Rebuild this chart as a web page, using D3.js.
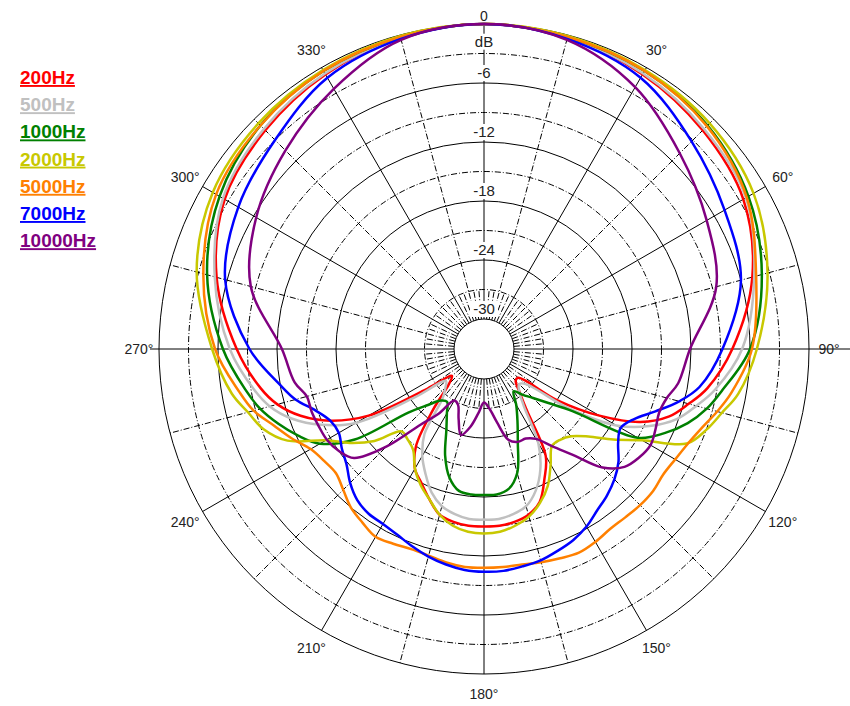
<!DOCTYPE html>
<html>
<head>
<meta charset="utf-8">
<script src="https://cdn.jsdelivr.net/npm/d3@7"></script>
<style>
  body { margin: 0; background: #fff; }
  text { font-family: "Liberation Sans", Arial, sans-serif; }
</style>
</head>
<body>
<svg id="chart" width="850" height="706"></svg>
<script>
// angles in degrees, clockwise from the front (top)
const angles = [0, 15, 30, 45, 60, 75, 90, 100, 105, 110, 115, 120, 125, 130, 135, 140, 145, 150, 155, 160, 165, 170, 175, 180,
    185, 190, 195, 200, 205, 210, 215, 220, 225, 230, 235, 240, 245, 250, 255, 260, 270, 285, 300, 315, 330, 345];

const freqLabels = ["200Hz", "500Hz", "1000Hz", "2000Hz", "5000Hz", "7000Hz", "10000Hz"];
const freqColors = ["#ff0000", "#c0c0c0", "#008000", "#c8c800", "#ff8000", "#0000ff", "#800080"];

// levels in dB, one per angle
const hz200 = [0, -0.3, -0.8, -1.6, -2.6, -4.8, -7.8, -10, -11.5, -13, -15.5, -19.5, -24, -28.5, -28.5, -27.5, -25.5, -20.5, -18.5, -16.5, -15.6, -15.2, -15, -15,
    -15, -15.2, -15.6, -16.8, -18, -19, -21, -25, -28, -28.8, -26, -19.5, -15.8, -13.2, -11.3, -10, -7.9, -4.9, -2.6, -1.6, -0.8, -0.3];
const hz500 = [0, -0.3, -0.7, -1.4, -2.3, -4.6, -6.8, -9.2, -10.7, -12.2, -14.5, -17.5, -22.5, -27.5, -28, -27.5, -26, -22, -19.5, -17.7, -16.5, -16, -15.7, -15.7,
    -15.7, -16, -16.5, -17.5, -19, -20.5, -22.5, -26.5, -27.5, -28, -24.5, -18, -14.8, -12.3, -10.5, -9.3, -7.2, -4.7, -2.4, -1.4, -0.7, -0.3];
const hz1000 = [0, -0.2, -0.4, -0.9, -2, -3.8, -6, -8.5, -9.6, -11, -12.8, -15, -22, -24.5, -26, -27, -27.8, -26.5, -25, -23, -20, -18.6, -18.2, -18.2,
    -18.2, -18.4, -19.5, -21.5, -24, -25.5, -26.5, -26.2, -25, -23, -17, -13.8, -12.2, -10.8, -9.5, -8.5, -6.5, -3.9, -2, -0.9, -0.4, -0.2];
const hz2000 = [0, -0.1, -0.3, -0.6, -1.4, -3.2, -5.3, -6.8, -8, -9, -10.3, -14.5, -17, -19.2, -20.5, -21, -21, -19.5, -17.7, -16.4, -15.4, -14.8, -14.4, -14.3,
    -14.4, -14.8, -15.6, -16.8, -17.8, -19, -20.5, -21, -21.2, -18.5, -16.4, -14.5, -11, -9.2, -8.2, -7, -5.4, -2.8, -1.2, -0.6, -0.3, -0.1];
const hz5000 = [0, -0.2, -0.4, -1, -2.2, -4.4, -5.8, -7.5, -8.5, -9.5, -10.2, -10.6, -10.8, -10.6, -10.6, -10.7, -10.7, -10.4, -10.2, -10.4, -10.6, -10.8, -10.8, -10.8,
    -10.8, -11, -11.3, -11.4, -11.2, -11, -11.5, -12, -12.8, -13.4, -13.2, -12.7, -11.5, -10.3, -8.8, -7.8, -5.7, -3.5, -1.6, -0.9, -0.4, -0.2];
const hz7000 = [0, -0.4, -1.2, -3.2, -4.8, -6, -8.8, -10.8, -12.5, -14.5, -16.2, -17, -16.4, -15.2, -14.3, -13.6, -13, -12.2, -11.6, -11.2, -10.8, -10.6, -10.4, -10.4,
    -10.5, -10.8, -11.2, -11.7, -12.2, -12.5, -12.6, -13, -13.8, -14.8, -15.4, -16, -15.8, -14.8, -13.2, -12, -9.2, -5.8, -4.2, -3, -1.2, -0.4];
const hz10000 = [0, -0.5, -2.3, -4.9, -6.9, -8.6, -12.1, -13, -13.8, -14.1, -13.8, -13.5, -13.8, -14.4, -16, -19, -21, -22.5, -23, -23, -23.5, -25.5, -27, -27.6,
    -26.5, -25, -24, -25.5, -26.8, -27, -25, -23, -19, -15.8, -15, -14.6, -14.5, -14.4, -14.4, -13.5, -12.5, -8.5, -6.3, -4.5, -2.5, -0.5];

const series = [hz200, hz500, hz1000, hz2000, hz5000, hz7000, hz10000];

const dbTicks = [-6, -12, -18, -24, -30];
const angleTicks = [0, 30, 60, 90, 120, 150, 180, 210, 240, 270, 300, 330];

const svg = d3.select("#chart");
const cx = 484, cy = 349;
const r = d3.scaleLinear().domain([-30, 0]).range([30, 325]).clamp(true);
const rad = d => d * Math.PI / 180;
const px = (a, rr) => cx + rr * Math.sin(rad(a));
const py = (a, rr) => cy - rr * Math.cos(rad(a));

let grid = svg.append("g").attr("stroke", "#000").attr("fill", "none").attr("stroke-width", 1);

// rings
for (let db = -27; db <= 0; db += 3) {
    grid.append("circle")
        .attr("cx", cx).attr("cy", cy).attr("r", r(db))
        .attr("stroke-dasharray", db % 6 === 0 ? null : "6,2,1,2");
}

// spokes
for (let a = 0; a < 360; a += 5) {
    if (a % 90 === 0) continue;
    let outer = a % 15 === 0 ? r(0) : r(-27);
    grid.append("line")
        .attr("x1", px(a, r(-30))).attr("y1", py(a, r(-30)))
        .attr("x2", px(a, outer)).attr("y2", py(a, outer))
        .attr("stroke-dasharray", a % 30 === 0 ? null : "6,2,1,2");
}

// main axes
grid.append("line").attr("x1", cx - 334).attr("y1", cy).attr("x2", 850).attr("y2", cy);
grid.append("line").attr("x1", cx).attr("y1", cy - r(0)).attr("x2", cx).attr("y2", cy + r(0));

// curves
let line = d3.lineRadial()
    .angle((d, i) => rad(angles[i]))
    .radius(d => r(d))
    .curve(d3.curveCatmullRomClosed.alpha(0.5));

let curves = svg.append("g").attr("transform", `translate(${cx},${cy})`);
series.forEach((s, i) => {
    curves.append("path")
        .attr("d", line(s))
        .attr("fill", "none")
        .attr("stroke", freqColors[i])
        .attr("stroke-width", 2.5)
        .attr("stroke-linejoin", "round");
});

// center hole
svg.append("circle").attr("cx", cx).attr("cy", cy).attr("r", r(-30))
    .attr("fill", "#fff").attr("stroke", "#000");

// dB labels on the vertical axis
let dbLabels = [{ t: "dB", y: cy - r(-1.8) }].concat(dbTicks.map(d => ({ t: String(d), y: cy - r(d) - 10 })));
dbLabels.forEach(l => {
    svg.append("rect").attr("x", cx - 14).attr("y", l.y - 8).attr("width", 28).attr("height", 16).attr("fill", "#fff");
    svg.append("text").attr("x", cx).attr("y", l.y + 5)
        .attr("text-anchor", "middle").attr("font-size", 15).attr("fill", "#222").text(l.t);
});

// angle labels
angleTicks.forEach(a => {
    let lr = a === 0 ? 333 : 345;
    svg.append("text")
        .attr("x", px(a, lr)).attr("y", py(a, lr) + 5)
        .attr("text-anchor", "middle").attr("font-size", 14).attr("fill", "#222")
        .text(a === 0 ? "0" : a + "°");
});

// legend
freqLabels.forEach((f, i) => {
    svg.append("text")
        .attr("x", 20).attr("y", 84 + i * 27.2)
        .attr("font-size", 19).attr("font-weight", "bold")
        .attr("text-decoration", "underline")
        .attr("fill", freqColors[i]).text(f);
});
</script>
</body>
</html>
